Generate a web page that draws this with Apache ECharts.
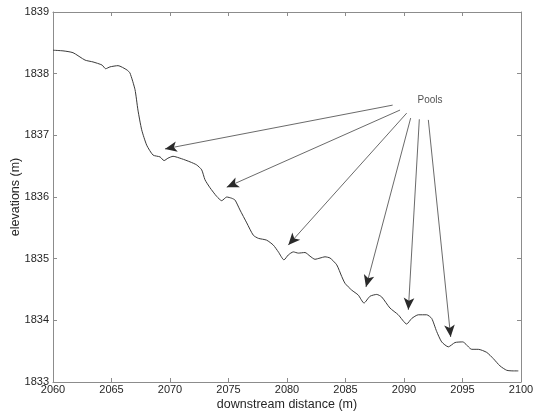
<!DOCTYPE html>
<html>
<head>
<meta charset="utf-8">
<script src="https://cdn.jsdelivr.net/npm/echarts@6/dist/echarts.min.js"></script>
<style>
html,body{margin:0;padding:0;background:#fff;}
#c{width:534px;height:413px;}
</style>
</head>
<body>
<div id="c"></div>
<script>
// downstream distance (m)
var distance = [2060.00,2060.85,2061.71,2062.74,2063.42,2064.19,2064.50,2064.87,2065.56,2066.32,
  2066.58,2067.01,2067.26,2067.58,2068.01,2068.55,2069.15,2069.49,2069.83,2070.26,
  2071.00,2071.71,2072.28,2072.71,2072.99,2073.42,2073.99,2074.42,2074.85,2075.27,
  2075.56,2075.98,2076.56,2077.12,2077.55,2078.26,2078.83,2079.26,2079.74,2080.11,
  2080.54,2080.97,2081.54,2081.97,2082.39,2082.82,2083.25,2083.68,2084.25,2084.68,
  2084.96,2085.53,2086.09,2086.58,2087.09,2087.67,2088.09,2088.80,2089.51,2090.23,
  2090.66,2091.22,2091.94,2092.37,2092.79,2093.22,2093.79,2094.36,2095.02,2095.79,
  2096.35,2097.07,2097.63,2098.21,2098.78,2099.34,2099.77];
// elevations (m)
var elevation = [1838.38,1838.37,1838.34,1838.22,1838.19,1838.14,1838.08,1838.11,1838.13,1838.06,
  1838.01,1837.74,1837.41,1837.09,1836.84,1836.68,1836.65,1836.59,1836.63,1836.66,
  1836.62,1836.57,1836.52,1836.44,1836.28,1836.15,1836.01,1835.94,1836.00,1835.98,
  1835.95,1835.79,1835.58,1835.38,1835.33,1835.30,1835.22,1835.11,1834.98,1835.06,
  1835.11,1835.09,1835.10,1835.04,1834.99,1835.01,1835.03,1835.01,1834.90,1834.71,
  1834.60,1834.49,1834.41,1834.28,1834.39,1834.42,1834.38,1834.20,1834.09,1833.94,
  1834.03,1834.09,1834.09,1834.03,1833.82,1833.65,1833.57,1833.64,1833.65,1833.53,
  1833.53,1833.48,1833.38,1833.26,1833.19,1833.18,1833.18];

var xTicks = [2060,2065,2070,2075,2080,2085,2090,2095,2100];
var yTicks = [1833,1834,1835,1836,1837,1838,1839];

// annotation "Pools" and arrows (data coordinates)
var poolsLabel = 'Pools';
var poolsPos = [2092.22, 1837.57];
var arrowStartX = [2089.03,2089.66,2090.23,2090.57,2091.31,2092.08];
var arrowStartY = [1837.49,1837.41,1837.36,1837.28,1837.26,1837.25];
var arrowEndX   = [2069.57,2074.85,2080.11,2086.75,2090.37,2093.99];
var arrowEndY   = [1836.78,1836.16,1835.22,1834.54,1834.17,1833.73];

var xLabel = 'downstream distance (m)';
var yLabel = 'elevations (m)';

var profile = distance.map(function(d,i){return [d, elevation[i]];});
var arrows = arrowStartX.map(function(x,i){
  return [{coord:[x, arrowStartY[i]], symbol:'none'},
          {coord:[arrowEndX[i], arrowEndY[i]], symbol:'arrow', symbolSize:[8,12]}];
});

var axisCol = '#8c8c8c';
var textCol = '#262626';
var font = 'Liberation Sans, Arial, sans-serif';

function xAx(pos, showLabel){
  return {
    type:'value', position:pos, min:2060, max:2100, interval:5,
    axisLine:{show:true, onZero:false, lineStyle:{color:axisCol, width:1}},
    axisTick:{show:true, inside:true, length:4, lineStyle:{color:axisCol}},
    axisLabel:{show:showLabel, color:textCol, fontSize:11, fontFamily:font, margin:2,
      formatter:function(v){return xTicks.indexOf(v)>=0 ? String(v) : '';}},
    splitLine:{show:false},
    name: showLabel ? xLabel : '', nameLocation:'middle', nameGap:16, nameMoveOverlap:false,
    nameTextStyle:{color:textCol, fontSize:12.5, fontFamily:font}
  };
}
function yAx(pos, showLabel){
  return {
    type:'value', position:pos, min:1833, max:1839, interval:1,
    axisLine:{show:true, onZero:false, lineStyle:{color:axisCol, width:1}},
    axisTick:{show:true, inside:true, length:4, lineStyle:{color:axisCol}},
    axisLabel:{show:showLabel, color:textCol, fontSize:11, fontFamily:font, margin:4,
      formatter:function(v){return yTicks.indexOf(v)>=0 ? String(v) : '';}},
    splitLine:{show:false},
    name: showLabel ? yLabel : '', nameLocation:'middle', nameGap:31, nameMoveOverlap:false,
    nameTextStyle:{color:textCol, fontSize:12.5, fontFamily:font}
  };
}

var chart = echarts.init(document.getElementById('c'), null, {renderer:'canvas'});
chart.setOption({
  animation:false,
  backgroundColor:'#ffffff',
  grid:{left:53, right:13, top:12, bottom:31, containLabel:false, outerBoundsMode:'none'},
  xAxis:[xAx('bottom', true), xAx('top', false)],
  yAxis:[yAx('left', true), yAx('right', false)],
  series:[
    {
      type:'line', data:profile, xAxisIndex:0, yAxisIndex:0,
      showSymbol:false, symbol:'none', smooth:0.2,
      lineStyle:{color:'#3a3a3a', width:1},
      markLine:{
        silent:true, animation:false, symbol:['none','arrow'],
        label:{show:false},
        lineStyle:{color:'#2a2a2a', width:0.7, type:'solid'},
        emphasis:{disabled:true},
        data:arrows
      }
    },
    {
      type:'scatter', data:[poolsPos], symbolSize:0, silent:true,
      label:{show:true, position:'inside', formatter:poolsLabel, color:textCol, fontSize:10, fontFamily:font}
    }
  ]
});
</script>
</body>
</html>
